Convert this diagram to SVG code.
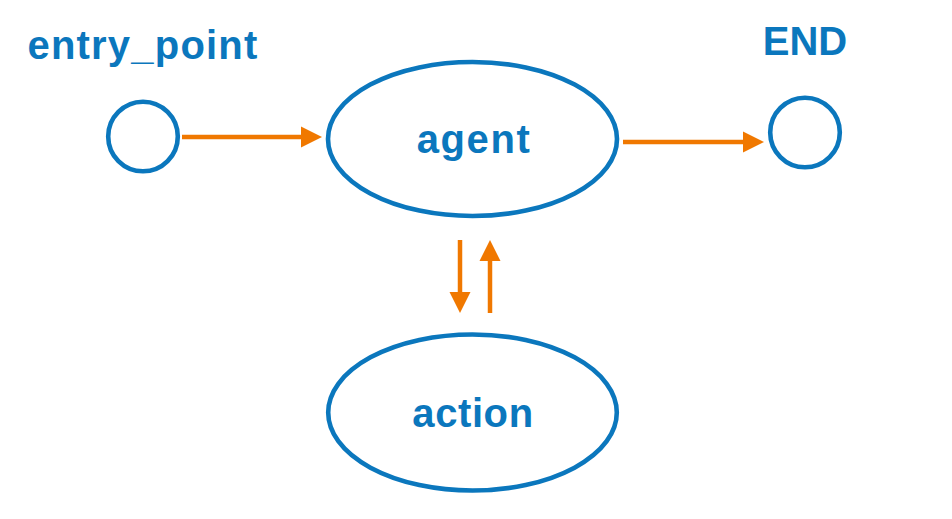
<svg xmlns="http://www.w3.org/2000/svg" width="952" height="519" viewBox="0 0 952 519">
  <style>
    .node { fill: #ffffff; stroke: #0b77bd; stroke-width: 4.6; }
    .label { font-family: "Liberation Sans", Arial, sans-serif; font-weight: bold; font-size: 40px; fill: #0b77bd; text-anchor: middle; }
    .edge { stroke: #f07800; stroke-width: 4.5; fill: none; }
    .head { fill: #f07800; }
  </style>
  <rect width="952" height="519" fill="#ffffff"/>
  <g id="entry_point">
    <circle class="node" cx="143" cy="136.5" r="34.8"/>
    <text class="label" x="143" y="59" letter-spacing="1.2">entry_point</text>
  </g>
  <g id="END">
    <circle class="node" cx="805" cy="132.5" r="34.8"/>
    <text class="label" x="805" y="55">END</text>
  </g>
  <g id="agent">
    <ellipse class="node" cx="472.5" cy="139" rx="144.5" ry="77"/>
    <text class="label" x="474" y="153" letter-spacing="1.6">agent</text>
  </g>
  <g id="action">
    <ellipse class="node" cx="472.5" cy="412.5" rx="144.3" ry="78"/>
    <text class="label" x="473" y="427" letter-spacing="0.6">action</text>
  </g>
  <g id="connectors">
    <line class="edge" x1="182" y1="137" x2="304" y2="137"/>
    <polygon class="head" points="301,126.5 322,137 301,147.5"/>
    <line class="edge" x1="623" y1="142" x2="746" y2="142"/>
    <polygon class="head" points="743,131.5 764,142 743,152.5"/>
    <line class="edge" x1="460" y1="240" x2="460" y2="295"/>
    <polygon class="head" points="449.5,292 470.5,292 460,313"/>
    <line class="edge" x1="490" y1="258" x2="490" y2="313"/>
    <polygon class="head" points="479.5,261 500.5,261 490,240"/>
  </g>
</svg>
